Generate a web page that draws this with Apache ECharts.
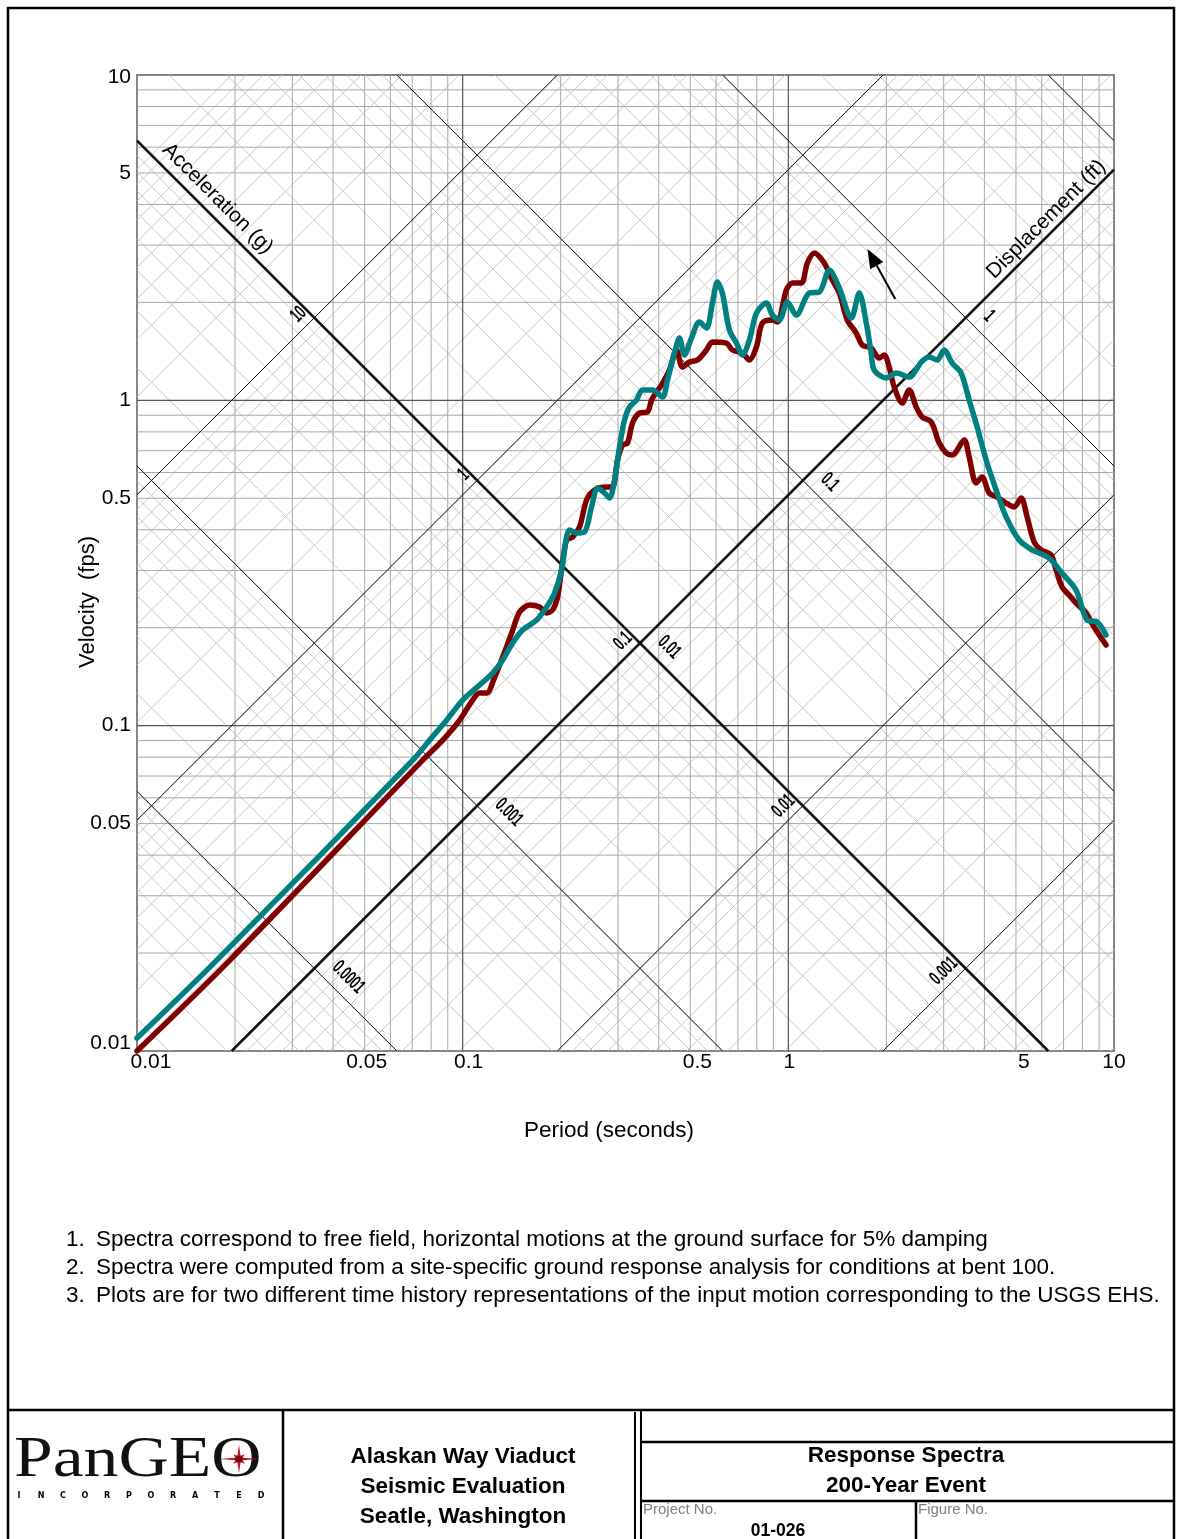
<!DOCTYPE html>
<html><head><meta charset="utf-8">
<script src="https://cdn.jsdelivr.net/npm/echarts@6/dist/echarts.min.js"></script>
<style>html,body{margin:0;padding:0;background:#fff}#c{width:1177px;height:1539px}</style>
</head><body><div id="c"></div>
<script>
// ---------- data ----------
const periodTicks = [0.01, 0.05, 0.1, 0.5, 1, 5, 10];
const periodTickLabels = ['0.01', '0.05', '0.1', '0.5', '1', '5', '10'];
const velocityTicks = [0.01, 0.05, 0.1, 0.5, 1, 5, 10];
const velocityTickLabels = ['0.01', '0.05', '0.1', '0.5', '1', '5', '10'];
const accelMajor = [0.001, 0.01, 0.1, 1, 10];          // g
const accelMajorLabels = ['0.001', '0.01', '0.1', '1', '10'];
const dispMajor = [0.0001, 0.001, 0.01, 0.1, 1];        // ft
const dispMajorLabels = ['0.0001', '0.001', '0.01', '0.1', '1'];
const dispExtraMajor = [10];
const accelThick = 0.1, dispThick = 0.01;

const redPeriod = [
 0.01, 0.01929, 0.0754, 0.0869, 0.0979, 0.1073, 0.1127, 0.1185, 0.1254, 0.1327,
 0.1414, 0.1496, 0.1605, 0.1723, 0.1810, 0.1888, 0.1956, 0.2012, 0.2084, 0.2175,
 0.2285, 0.2401, 0.2541, 0.2765, 0.2884, 0.2989, 0.3096, 0.3207, 0.3323, 0.3490,
 0.3694, 0.3801, 0.3937, 0.4078, 0.4315, 0.4533, 0.4729, 0.4969, 0.5259, 0.5605,
 0.5847, 0.6453, 0.6733, 0.7227, 0.7593, 0.7979, 0.8321, 0.8932, 0.9254, 0.9860,
 1.029, 1.096, 1.144, 1.202, 1.289, 1.355, 1.434, 1.517, 1.617, 1.687,
 1.797, 1.901, 1.970, 2.040, 2.114, 2.237, 2.350, 2.470, 2.576, 2.746,
 2.906, 3.053, 3.185, 3.467, 3.592, 3.774, 3.936, 4.136, 4.377, 4.664,
 4.935, 5.186, 5.411, 5.685, 5.974, 6.408, 6.639, 6.926, 7.278, 7.645,
 8.206, 8.684, 9.452];
const redVelocity = [
 0.0100, 0.01903, 0.0784, 0.0903, 0.1040, 0.1199, 0.1259, 0.1259, 0.1411, 0.1625,
 0.1926, 0.2235, 0.2348, 0.2315, 0.2220, 0.2267, 0.2485, 0.3008, 0.3720, 0.3801,
 0.4078, 0.4938, 0.5299, 0.5414, 0.5414, 0.6555, 0.7288, 0.7392, 0.8515, 0.9141,
 0.9205, 1.002, 1.060, 1.114, 1.239, 1.428, 1.266, 1.311, 1.330, 1.428,
 1.511, 1.500, 1.428, 1.398, 1.330, 1.458, 1.728, 1.765, 1.741, 2.183,
 2.294, 2.294, 2.643, 2.837, 2.643, 2.377, 2.137, 1.765, 1.610, 1.479,
 1.448, 1.349, 1.378, 1.266, 1.099, 0.981, 1.076, 0.954, 0.889, 0.858,
 0.739, 0.689, 0.679, 0.755, 0.669, 0.557, 0.581, 0.519, 0.504, 0.483,
 0.470, 0.501, 0.438, 0.367, 0.347, 0.335, 0.301, 0.267, 0.252, 0.238,
 0.222, 0.201, 0.177];
const tealPeriod = [
 0.01, 0.01759, 0.0703, 0.0792, 0.0893, 0.1000, 0.1127, 0.1236, 0.1327, 0.1424,
 0.1528, 0.1687, 0.1810, 0.1915, 0.2012, 0.2084, 0.2129, 0.2238, 0.2367, 0.2487,
 0.2595, 0.2726, 0.2824, 0.2927, 0.3031, 0.3140, 0.3253, 0.3417, 0.3565, 0.3827,
 0.4107, 0.4255, 0.4470, 0.4630, 0.4797, 0.5040, 0.5333, 0.5605, 0.5847, 0.6057,
 0.6273, 0.6592, 0.6927, 0.7227, 0.7593, 0.7979, 0.8560, 0.8932, 0.9384, 0.9929,
 1.058, 1.160, 1.245, 1.336, 1.434, 1.561, 1.651, 1.735, 1.797, 1.835,
 1.998, 2.144, 2.350, 2.559, 2.707, 2.865, 3.009, 3.185, 3.394, 3.592,
 3.801, 4.049, 4.345, 4.664, 5.112, 5.604, 6.318, 6.926, 7.645, 8.265,
 8.871, 9.452];
const tealVelocity = [
 0.01096, 0.01903, 0.0784, 0.0903, 0.1040, 0.1199, 0.1333, 0.1451, 0.1591, 0.1795,
 0.1967, 0.2112, 0.2315, 0.2557, 0.3008, 0.3801, 0.3993, 0.3909, 0.3937, 0.4700,
 0.5376, 0.5190, 0.5010, 0.5689, 0.7184, 0.8698, 0.9540, 1.002, 1.076, 1.076,
 1.024, 1.154, 1.398, 1.554, 1.378, 1.554, 1.741, 1.668, 1.991, 2.310,
 2.137, 1.645, 1.500, 1.378, 1.532, 1.855, 1.991, 1.829, 1.765, 2.005,
 1.829, 2.137, 2.152, 2.515, 2.214, 1.791, 2.137, 1.728, 1.398, 1.239,
 1.171, 1.213, 1.179, 1.311, 1.359, 1.330, 1.428, 1.302, 1.213, 1.002,
 0.828, 0.6555, 0.530, 0.438, 0.372, 0.347, 0.3274, 0.2944, 0.2611, 0.2112,
 0.2083, 0.1899];
const arrowTail = [2.13, 2.05];
const arrowTip = [1.75, 2.92];

const notes = [
 'Spectra correspond to free field, horizontal motions at the ground surface for 5% damping',
 'Spectra were computed from a site-specific ground response analysis for conditions at bent 100.',
 'Plots are for two different time history representations of the input motion corresponding to the USGS EHS.'
];
const projectLines = ['Alaskan Way Viaduct', 'Seismic Evaluation', 'Seatle, Washington'];
const titleLines = ['Response Spectra', '200-Year Event'];

// ---------- layout / style ----------
const FONT = "'Liberation Sans', Arial, sans-serif";
const G = 32.174;
const LMIN = -2, LMAX = 1;
const periodLabelNudge = [14, 2, 6, 7, 1, 8, 0];
const velocityLabelNudge = [-8, 0, 0, 0, 0, 0, 2];

function accLine(A) {
  const c = A * G / (2 * Math.PI), lc = Math.log10(c);
  const x0 = Math.max(LMIN, LMIN - lc), x1 = Math.min(LMAX, LMAX - lc);
  if (x0 >= x1) return null;
  return [[Math.pow(10, x0), c * Math.pow(10, x0)], [Math.pow(10, x1), c * Math.pow(10, x1)]];
}
function dispLine(D) {
  const c = 2 * Math.PI * D, lc = Math.log10(c);
  const x0 = Math.max(LMIN, lc - LMAX), x1 = Math.min(LMAX, lc - LMIN);
  if (x0 >= x1) return null;
  return [[Math.pow(10, x0), c / Math.pow(10, x0)], [Math.pow(10, x1), c / Math.pow(10, x1)]];
}
const series = [];
function addSeg(pts, color, width, z) {
  if (!pts) return;
  series.push({ type: 'line', data: pts, symbol: 'none', silent: true, animation: false, clip: true,
    z: z, lineStyle: { color: color, width: width }, emphasis: { disabled: true } });
}
const mult = [1, 2, 3, 4, 5, 6, 7, 8, 9];
// minor diagonal grid
for (let n = -4; n <= 2; n++) for (const k of mult) addSeg(accLine(k * Math.pow(10, n)), '#c9c9c9', 1, 1);
for (let n = -5; n <= 1; n++) for (const k of mult) addSeg(dispLine(k * Math.pow(10, n)), '#c9c9c9', 1, 1);
// rectangular grid
for (let n = -2; n <= 0; n++) for (const k of mult) {
  if (k === 1) continue;
  const v = k * Math.pow(10, n);
  addSeg([[v, 0.01], [v, 10]], '#a8a8a8', 1, 2);
  addSeg([[0.01, v], [10, v]], '#a8a8a8', 1, 2);
}
for (const v of [0.1, 1]) {
  addSeg([[v, 0.01], [v, 10]], '#555', 1.2, 3);
  addSeg([[0.01, v], [10, v]], '#555', 1.2, 3);
}
// major diagonals
for (const a of accelMajor) addSeg(accLine(a), '#111', a === accelThick ? 2.6 : 1, a === accelThick ? 5 : 4);
for (const d of dispMajor.concat(dispExtraMajor)) addSeg(dispLine(d), '#111', d === dispThick ? 2.6 : 1, d === dispThick ? 5 : 4);

// spectra
function curve(T, V, color) {
  const n = Math.min(T.length, V.length), data = [];
  for (let i = 0; i < n; i++) data.push([T[i], V[i]]);
  return { type: 'line', data: data, symbol: 'none', smooth: 0.3, silent: true, animation: false, clip: true, z: 10,
    lineStyle: { color: color, width: 5.5, cap: 'round', join: 'round' } };
}
series.push(curve(redPeriod, redVelocity, '#800000'));
series.push(curve(tealPeriod, tealVelocity, '#008080'));

const chart = echarts.init(document.getElementById('c'), null, { renderer: 'canvas' });
const axisCommon = { type: 'log', logBase: 10, min: 0.01, max: 10,
  axisLine: { show: false }, axisTick: { show: false }, axisLabel: { show: false }, splitLine: { show: false } };
chart.setOption({
  animation: false,
  textStyle: { fontFamily: FONT },
  grid: { left: 137, top: 75, width: 977, height: 976, show: true, borderColor: '#858585', borderWidth: 2 },
  xAxis: Object.assign({}, axisCommon),
  yAxis: Object.assign({}, axisCommon),
  series: series
});

const px = (t, v) => chart.convertToPixel({ gridIndex: 0 }, [t, v]);
const gr = [];
function txt(x, y, s, o) {
  o = o || {};
  gr.push({ type: 'text', x: x, y: y, rotation: o.rot || 0, scaleX: o.sx || 1, z: o.z || 100, silent: true,
    style: { text: s, fill: o.color || '#000', font: (o.weight || 'normal') + ' ' + (o.size || 21) + 'px ' + (o.family || FONT),
      align: o.align || 'center', verticalAlign: o.va || 'middle' } });
}
function ln(x1, y1, x2, y2, w, c) {
  gr.push({ type: 'line', z: 90, silent: true, shape: { x1: x1, y1: y1, x2: x2, y2: y2 }, style: { stroke: c || '#000', lineWidth: w || 2 } });
}
// tick labels
periodTicks.forEach((t, i) => { const p = px(t, 0.01); txt(p[0] + periodLabelNudge[i], p[1] + 1, periodTickLabels[i], { va: 'top' }); });
velocityTicks.forEach((v, i) => { const p = px(0.01, v); txt(p[0] - 6, p[1] + velocityLabelNudge[i], velocityTickLabels[i], { align: 'right' }); });
// axis titles
txt(609, 1131, 'Period (seconds)', { size: 22.5 });
txt(88, 602, 'Velocity  (fps)', { rot: Math.PI / 2, size: 22 });
// diagonal labels
const cD = 2 * Math.PI * dispThick;
accelMajor.forEach((a, i) => {
  const cA = a * G / (2 * Math.PI), T = Math.sqrt(cD / cA), p = px(T, cA * T);
  txt(p[0] - 11, p[1] - 8, accelMajorLabels[i], { rot: Math.PI / 4, align: 'right', size: 20, sx: 0.6, weight: 'bold' });
});
const cA0 = accelThick * G / (2 * Math.PI);
dispMajor.forEach((d, i) => {
  const c = 2 * Math.PI * d, T = Math.sqrt(c / cA0), p = px(T, cA0 * T);
  txt(p[0] + 21, p[1] - 4, dispMajorLabels[i], { rot: -Math.PI / 4, align: 'left', size: 20, sx: 0.6, weight: 'bold' });
});
{ const T = 0.01633, p = px(T, cD / T); txt(p[0] + 11.3, p[1] - 11.3, 'Acceleration (g)', { rot: -Math.PI / 4 }); }
{ const T = 6.6, p = px(T, cA0 * T); txt(p[0] - 9, p[1] - 9, 'Displacement (ft)', { rot: Math.PI / 4 }); }
// arrow
{
  const a = px(arrowTail[0], arrowTail[1]), b = px(arrowTip[0], arrowTip[1]);
  const dx = b[0] - a[0], dy = b[1] - a[1], L = Math.hypot(dx, dy), ux = dx / L, uy = dy / L;
  const bx = b[0] - ux * 19, by = b[1] - uy * 19, nx = -uy, ny = ux;
  ln(a[0], a[1], bx, by, 2, '#000');
  gr.push({ type: 'polygon', z: 95, silent: true, shape: { points: [[b[0], b[1]], [bx + nx * 7.5, by + ny * 7.5], [bx - nx * 7.5, by - ny * 7.5]] }, style: { fill: '#000' } });
}
// notes
notes.forEach((s, i) => { const y = 1240 + i * 28; txt(66, y, (i + 1) + '.', { align: 'left', size: 22.5 }); txt(96, y, s, { align: 'left', size: 22.5 }); });
// frame & title block
gr.push({ type: 'rect', z: 90, silent: true, shape: { x: 8, y: 8, width: 1166, height: 1560 }, style: { fill: 'none', stroke: '#000', lineWidth: 2.5 } });
ln(8, 1410, 1174, 1410, 2.5);
ln(283, 1410, 283, 1539, 2.5);
ln(635, 1412, 635, 1539, 2);
ln(641, 1410, 641, 1539, 2);
ln(641, 1442, 1174, 1442, 2.5);
ln(641, 1501, 1174, 1501, 2.5);
ln(916, 1501, 916, 1539, 2.5);
projectLines.forEach((s, i) => txt(463, 1457 + i * 30, s, { weight: 'bold', size: 22.5 }));
titleLines.forEach((s, i) => txt(906, 1456 + i * 30, s, { weight: 'bold', size: 22.5 }));
txt(643, 1510, 'Project No.', { align: 'left', size: 15, color: '#808080' });
txt(918, 1510, 'Figure No.', { align: 'left', size: 15, color: '#808080' });
txt(778, 1531, '01-026', { weight: 'bold', size: 17.5 });
// logo
txt(14, 1461, 'PanGEO', { align: 'left', size: 58, sx: 1.2, color: '#111', family: "'Liberation Serif', 'Times New Roman', serif" });
{
  const cx = 239, cy = 1459, pts = [];
  const rr = [17, 4, 8, 4, 20, 4, 8, 4, 17, 4, 8, 4, 20, 4, 8, 4];
  for (let i = 0; i < rr.length; i++) { const ang = i / rr.length * Math.PI * 2 - Math.PI / 2; pts.push([cx + rr[i] * Math.cos(ang), cy + rr[i] * Math.sin(ang) * 0.85]); }
  gr.push({ type: 'polygon', z: 101, silent: true, shape: { points: pts }, style: { fill: '#c0142a' } });
  gr.push({ type: 'circle', z: 102, silent: true, shape: { cx: cx, cy: cy, r: 3.5 }, style: { fill: '#7a0010' } });
}
'INCORPORATED'.split('').forEach((ch, i) => txt(19 + i * 22, 1496, ch, { weight: 'bold', size: 8, family: "'DejaVu Sans', sans-serif" }));

chart.setOption({ graphic: { elements: gr } });
</script>
</body></html>
